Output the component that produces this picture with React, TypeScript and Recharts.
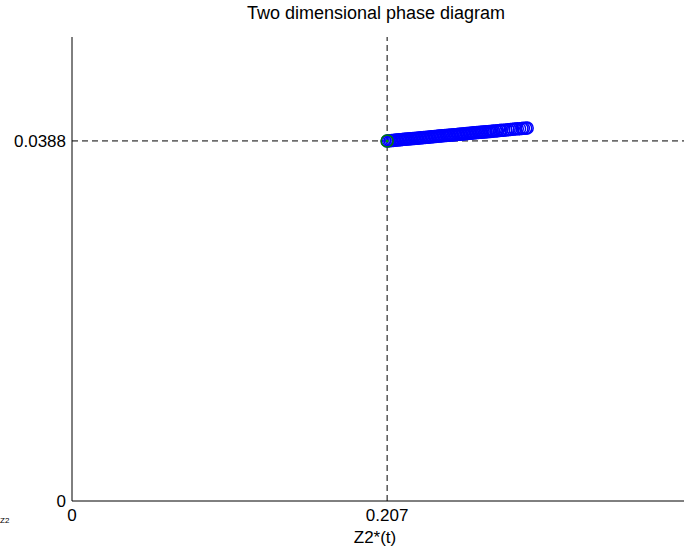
import { ReferenceLine, Scatter, ScatterChart, XAxis, YAxis } from "recharts";

// trajectory of (Z2*(t), y) – dense near the equilibrium, thinning out to the right
const phaseX = [
  0.207, 0.208, 0.209, 0.21, 0.211, 0.212, 0.213, 0.214, 0.215, 0.216, 0.217, 0.218, 0.219, 0.22, 0.221,
  0.222, 0.223, 0.224, 0.225, 0.226, 0.227, 0.228, 0.229, 0.23, 0.231, 0.232, 0.233, 0.234, 0.235, 0.236,
  0.237, 0.238, 0.239, 0.24, 0.241, 0.242, 0.243, 0.244, 0.245, 0.246, 0.247, 0.248, 0.249, 0.25, 0.251,
  0.252, 0.253, 0.254, 0.255, 0.256, 0.257, 0.258, 0.259, 0.26, 0.261, 0.262, 0.263, 0.264, 0.265, 0.266,
  0.267, 0.268, 0.269, 0.27, 0.271, 0.272, 0.273, 0.274, 0.275, 0.276, 0.277, 0.2785, 0.2795, 0.281, 0.282,
  0.2835, 0.285, 0.2865, 0.288, 0.2895, 0.291, 0.2925, 0.294, 0.2955, 0.2965, 0.298, 0.299
];
const phaseY = [
  0.0388, 0.03882, 0.03883, 0.03885, 0.03886, 0.03888, 0.03889, 0.03891, 0.03892, 0.03894, 0.03895, 0.03897,
  0.03898, 0.039, 0.03901, 0.03903, 0.03904, 0.03906, 0.03907, 0.03909, 0.0391, 0.03912, 0.03913, 0.03915,
  0.03916, 0.03918, 0.0392, 0.03921, 0.03923, 0.03924, 0.03926, 0.03927, 0.03929, 0.0393, 0.03932, 0.03933,
  0.03935, 0.03936, 0.03938, 0.03939, 0.03941, 0.03942, 0.03944, 0.03945, 0.03947, 0.03948, 0.0395, 0.03951,
  0.03953, 0.03954, 0.03956, 0.03957, 0.03959, 0.03961, 0.03962, 0.03964, 0.03965, 0.03967, 0.03968, 0.0397,
  0.03971, 0.03973, 0.03974, 0.03976, 0.03977, 0.03979, 0.0398, 0.03982, 0.03983, 0.03985, 0.03986, 0.03988,
  0.0399, 0.03992, 0.03994, 0.03996, 0.03998, 0.04001, 0.04003, 0.04005, 0.04008, 0.0401, 0.04012, 0.04015,
  0.04016, 0.04018, 0.0402
];
const startX = [0.207];
const startY = [0.0388];
const xTicks = [0, 0.207];
const yTicks = [0, 0.0388];

const trajectory = phaseX.map((x, i) => ({ x, y: phaseY[i] }));
const start = startX.map((x, i) => ({ x, y: startY[i] }));

const font = "Arial, 'Liberation Sans', Helvetica, sans-serif";

export default function App() {
  return (
    <div style={{ position: "absolute", left: 0, top: 0, width: 696, height: 551, background: "#fff", fontFamily: font }}>
      <ScatterChart width={696} height={551} margin={{ top: 37, right: 12, bottom: 0, left: 0 }}>
        <XAxis
          type="number"
          dataKey="x"
          domain={[0, 0.402]}
          ticks={xTicks}
          tickLine={false}
          tickSize={0}
          tickMargin={8}
          height={50}
          axisLine={{ stroke: "#000", strokeWidth: 1 }}
          tick={{ fill: "#000", fontSize: 17, fontFamily: font }}
          allowDataOverflow
        />
        <YAxis
          type="number"
          dataKey="y"
          domain={[0, 0.05]}
          ticks={yTicks}
          tickLine={false}
          tickSize={0}
          tickMargin={6}
          width={72}
          axisLine={{ stroke: "#000", strokeWidth: 1 }}
          tick={{ fill: "#000", fontSize: 17, fontFamily: font }}
          allowDataOverflow
        />
        <ReferenceLine x={0.207} stroke="#000" strokeDasharray="6 4" />
        <ReferenceLine y={0.0388} stroke="#000" strokeDasharray="6 4" />
        <Scatter
          data={trajectory}
          isAnimationActive={false}
          shape={(p: any) => <circle cx={p.cx} cy={p.cy} r={6} fill="none" stroke="#0000ff" strokeWidth={1.5} />}
        />
        <Scatter
          data={start}
          isAnimationActive={false}
          shape={(p: any) => (
            <g>
              <circle cx={p.cx} cy={p.cy} r={6} fill="none" stroke="#007f00" strokeWidth={1.5} />
              <circle cx={p.cx} cy={p.cy} r={1.5} fill="#00a000" />
            </g>
          )}
        />
      </ScatterChart>
      <svg width={696} height={551} style={{ position: "absolute", left: 0, top: 0, pointerEvents: "none" }}>
        <text x={376} y={19} textAnchor="middle" fontSize={18} fontFamily={font} fill="#000">
          Two dimensional phase diagram
        </text>
        <text x={375} y={543} textAnchor="middle" fontSize={17} fontFamily={font} fill="#000">
          Z2*(t)
        </text>
        <text x={0} y={523} fontSize={8} fontFamily={font} fill="#000">
          Z2
        </text>
      </svg>
    </div>
  );
}
